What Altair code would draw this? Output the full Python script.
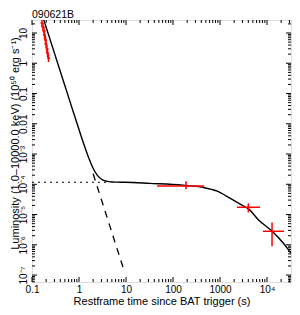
import math
import altair as alt
import pandas as pd

# ---- model curve (total) ----
curve_t = [0.1714, 0.316, 0.631, 1.0, 1.259, 1.585, 1.995, 2.512, 3.162, 3.981, 5.012, 6.31,
           9.55, 32.4, 162, 437, 871, 1622, 2692, 4169, 6457, 12882, 21878, 43650]
curve_L = [32.9, 1.69, 0.0592, 6.46e-3, 2.19e-3, 7.96e-4, 3.39e-4, 1.90e-4, 1.41e-4, 1.25e-4,
           1.195e-4, 1.18e-4, 1.17e-4, 1.07e-4, 9.3e-5, 7.9e-5, 5.9e-5, 3.5e-5, 2.2e-5,
           1.48e-5, 6.9e-6, 2.8e-6, 1.17e-6, 2.8e-7]

# steep component continuation (dashed)
steep_t = [2.0, 8.63]
steep_L = [2.22e-4, 1.82e-7]

# plateau component extension (dotted)
plat_t = [0.1, 4.0]
plat_L = [1.17e-4, 1.17e-4]

# ---- data points (red) ----
obs_t = [0.1632, 0.1714, 0.1800, 0.1845, 0.1937, 0.1986, 0.2085, 0.2137, 0.2244,
         189, 4000, 12800]
obs_t_lo = [0.1517, 0.1593, 0.1673, 0.1715, 0.1800, 0.1846, 0.1938, 0.1986, 0.2086,
            46, 2300, 8200]
obs_t_hi = [0.1756, 0.1844, 0.1937, 0.1985, 0.2084, 0.2137, 0.2243, 0.2299, 0.2415,
            460, 7100, 23000]
obs_L = [21.4, 15.8, 11.6, 8.6, 5.9, 4.3, 2.96, 2.18, 1.49, 8.7e-5, 1.74e-5, 2.8e-6]
obs_L_lo = [15.8, 11.7, 8.6, 6.3, 4.35, 3.17, 2.18, 1.61, 1.10, 6.8e-5, 1.18e-5, 8.9e-7]
obs_L_hi = [29.0, 21.4, 15.7, 11.7, 8.0, 5.8, 4.0, 2.96, 2.02, 1.26e-4, 2.35e-5, 5.5e-6]

# ---- axes ----
x_major = [0.1, 1, 10, 100, 1000, 10000]
x_labels = ["0.1", "1", "10", "100", "1000", "10⁴"]
y_major = [1e-7, 1e-6, 1e-5, 1e-4, 1e-3, 0.01, 0.1, 1, 10]
y_labels = ["10⁻⁷", "10⁻⁶", "10⁻⁵", "10⁻⁴", "10⁻³", "0.01", "0.1", "1", "10"]

x_domain = [0.1, 32400]
y_domain = [5.9e-8, 26.9]

x_title = "Restframe time since BAT trigger (s)"
y_title = "Luminosity (1.0–10000.0 keV) (10⁵⁰ erg s⁻¹)"
chart_title = "090621B"

W, H = 259, 262
FONT = "Liberation Sans"

x_minor = [m * 10.0 ** e for e in range(-1, 5) for m in range(2, 10)
           if x_domain[0] < m * 10.0 ** e < x_domain[1]]
y_minor = [m * 10.0 ** e for e in range(-8, 2) for m in range(2, 10)
           if y_domain[0] < m * 10.0 ** e < y_domain[1]]


def label_expr(vals, labels):
    expr = "''"
    for v, lab in reversed(list(zip(vals, labels))):
        expr = f"abs(log(datum.value)/LN10 - ({math.log10(v):.6f})) < 0.01 ? '{lab}' : ({expr})"
    return expr


xs = alt.Scale(type="log", domain=x_domain, nice=False)
ys = alt.Scale(type="log", domain=y_domain, nice=False)

x_axis = alt.Axis(values=x_major, labelExpr=label_expr(x_major, x_labels), ticks=False,
                  tickSize=0, domain=False, grid=False, labelPadding=2, labelFontSize=10,
                  labelFont=FONT, labelColor="black", labelFlush=False, labelOverlap=False,
                  title=x_title, titleFont=FONT, titleFontSize=11, titleFontWeight="normal",
                  titleColor="black", titleY=22, titleBaseline="alphabetic")
y_axis = alt.Axis(values=y_major, labelExpr=label_expr(y_major, y_labels), ticks=False,
                  tickSize=0, domain=False, grid=False, labelPadding=4, labelFontSize=10,
                  labelFont=FONT, labelColor="black", labelAngle=270, labelAlign="center",
                  labelBaseline="bottom", labelFlush=False, labelOverlap=False,
                  title=y_title, titleFont=FONT, titleFontSize=11, titleFontWeight="normal",
                  titleColor="black", titleAngle=270, titleX=-12, titleY=123,
                  titleAlign="center", titleBaseline="bottom")


def X(field):
    return alt.X(field, scale=xs, axis=x_axis)


def Y(field):
    return alt.Y(field, scale=ys, axis=y_axis)


curve_df = pd.DataFrame({"t": curve_t, "L": curve_L})
steep_df = pd.DataFrame({"t": steep_t, "L": steep_L})
plat_df = pd.DataFrame({"t": plat_t, "L": plat_L})
obs_df = pd.DataFrame({"t": obs_t, "t_lo": obs_t_lo, "t_hi": obs_t_hi,
                       "L": obs_L, "L_lo": obs_L_lo, "L_hi": obs_L_hi})

curve = alt.Chart(curve_df).mark_line(color="black", strokeWidth=1.4, interpolate="monotone",
                                      clip=True).encode(x=X("t:Q"), y=Y("L:Q"))
steep = alt.Chart(steep_df).mark_line(color="black", strokeWidth=1.3, strokeDash=[7, 6],
                                      clip=True).encode(x=X("t:Q"), y=Y("L:Q"))
plat = alt.Chart(plat_df).mark_line(color="black", strokeWidth=1.2, strokeDash=[2, 4],
                                    clip=True).encode(x=X("t:Q"), y=Y("L:Q"))

vbars = alt.Chart(obs_df).mark_rule(color="#ff0000", strokeWidth=1.5, clip=True).encode(
    x=X("t:Q"), y=Y("L_lo:Q"), y2="L_hi:Q")
hbars = alt.Chart(obs_df).mark_rule(color="#ff0000", strokeWidth=1.5, clip=True).encode(
    x=X("t_lo:Q"), x2="t_hi:Q", y=Y("L:Q"))


def xticks(vals, length):
    df = pd.DataFrame({"t": vals})
    base = alt.Chart(df).mark_rule(color="black", strokeWidth=1)
    bottom = base.encode(x=X("t:Q"), y=alt.value(H), y2=alt.value(H - length))
    top = base.encode(x=X("t:Q"), y=alt.value(0), y2=alt.value(length))
    return [bottom, top]


def yticks(vals, length):
    df = pd.DataFrame({"L": vals})
    base = alt.Chart(df).mark_rule(color="black", strokeWidth=1)
    left = base.encode(y=Y("L:Q"), x=alt.value(0), x2=alt.value(length))
    right = base.encode(y=Y("L:Q"), x=alt.value(W), x2=alt.value(W - length))
    return [left, right]


tick_layers = xticks(x_major, 5) + xticks(x_minor, 3) + yticks(y_major, 5) + yticks(y_minor, 3)

chart = alt.layer(curve, steep, plat, vbars, hbars, *tick_layers).properties(
    width=W, height=H,
    title=alt.TitleParams(chart_title, anchor="start", frame="group", offset=3, dy=14,
                          fontSize=10.5, fontWeight="normal", font=FONT, color="black",
                          baseline="bottom"),
    autosize=alt.AutoSizeParams(type="none"),
    padding={"left": 24, "top": 12, "right": 1, "bottom": 25},
).configure_view(stroke="black", strokeWidth=1).configure(background="white")

chart.save("out.html", embed_options={"renderer": "svg", "actions": False})
